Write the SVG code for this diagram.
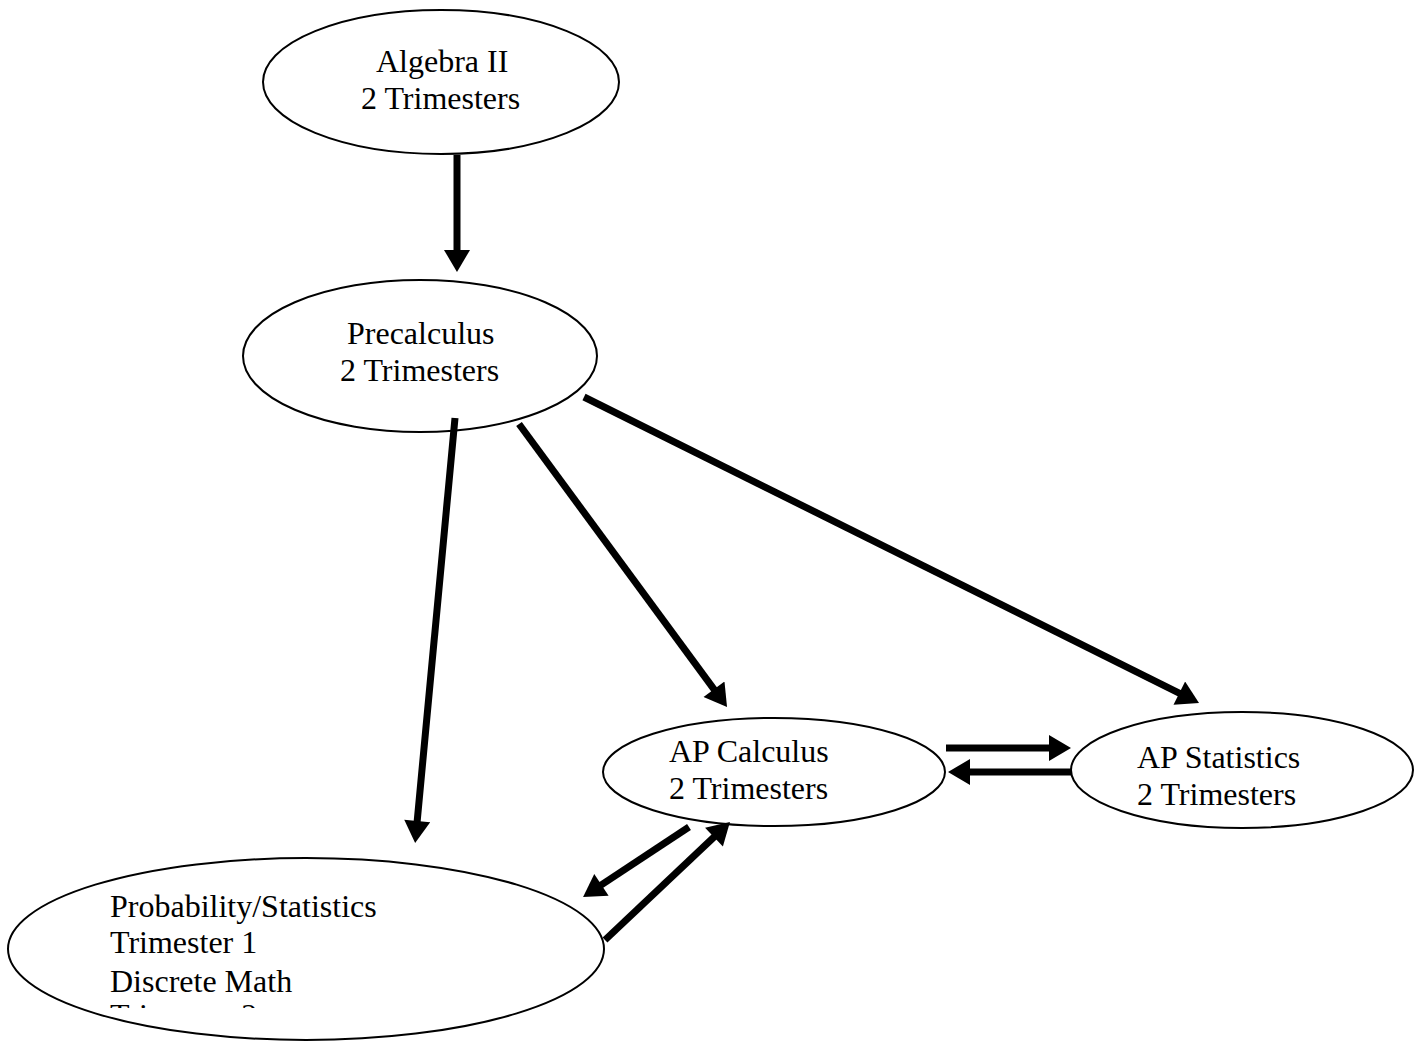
<svg xmlns="http://www.w3.org/2000/svg" width="1424" height="1043" viewBox="0 0 1424 1043">
<style>
.node ellipse{fill:#fff;stroke:#000;stroke-width:2}
.node text{font-family:"Liberation Serif","Times New Roman",serif;font-size:32px;fill:#000}
.conn line{stroke:#000;stroke-width:7;marker-end:url(#ah)}
</style>
<defs>
<marker id="ah" markerUnits="userSpaceOnUse" markerWidth="24" markerHeight="26" viewBox="0 0 22 26" refX="1" refY="13" orient="auto">
<path d="M0,0 L22,13 L0,26 z" fill="#000"/>
</marker>
<clipPath id="clipProb"><rect x="0" y="0" width="1424" height="1008"/></clipPath>
</defs>
<rect width="1424" height="1043" fill="#fff"/>
<g id="algebra2" class="node">
<ellipse cx="441" cy="82" rx="178" ry="72"/>
<text x="376" y="72">Algebra II</text>
<text x="361" y="109">2 Trimesters</text>
</g>
<g id="precalculus" class="node">
<ellipse cx="420" cy="356" rx="177" ry="76"/>
<text x="347" y="344">Precalculus</text>
<text x="340" y="381">2 Trimesters</text>
</g>
<g id="apcalculus" class="node">
<ellipse cx="774" cy="772" rx="171" ry="54"/>
<text x="669" y="762">AP Calculus</text>
<text x="669" y="799">2 Trimesters</text>
</g>
<g id="apstatistics" class="node">
<ellipse cx="1242" cy="770" rx="171" ry="58"/>
<text x="1137" y="768">AP Statistics</text>
<text x="1137" y="805">2 Trimesters</text>
</g>
<g id="probstat" class="node">
<ellipse cx="306" cy="949" rx="298" ry="91"/>
<text x="110" y="917">Probability/Statistics</text>
<text x="110" y="953">Trimester 1</text>
<text x="110" y="992">Discrete Math</text>
<text x="110" y="1026" clip-path="url(#clipProb)">Trimester 2</text>
</g>
<g id="connectors" class="conn">
<line x1="457" y1="155" x2="457" y2="251"/>
<line x1="455" y1="418" x2="417.1" y2="822"/>
<line x1="519" y1="424" x2="714.6" y2="690.1"/>
<line x1="584" y1="397" x2="1180.2" y2="693.6"/>
<line x1="946" y1="748" x2="1050" y2="748"/>
<line x1="1072" y1="772" x2="969" y2="772"/>
<line x1="689" y1="827" x2="600.6" y2="885.4"/>
<line x1="605" y1="940" x2="714.7" y2="836.4"/>
</g>
</svg>
